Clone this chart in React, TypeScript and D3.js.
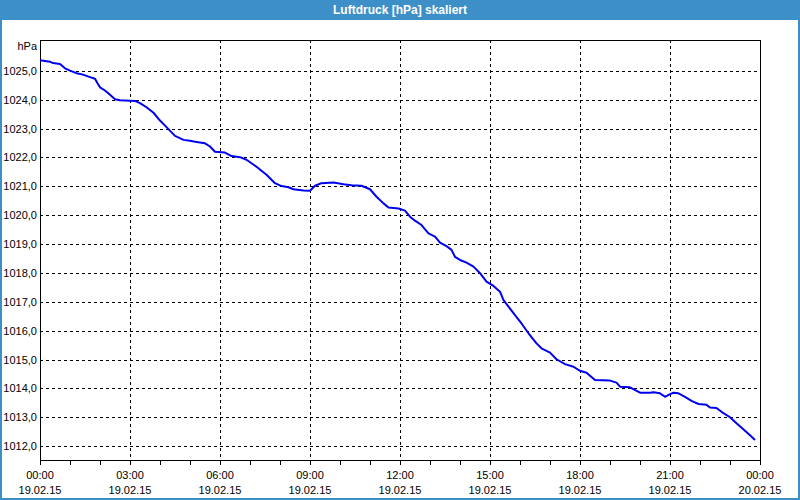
import React from "react";
import * as d3 from "d3";

const title = "Luftdruck [hPa] skaliert";
const unitLabel = "hPa";

// minutes since 19.02.15 00:00
const minutes = [
  0, 20, 26, 40, 50, 60, 73, 86, 97, 110, 115, 120, 130, 140, 150, 160, 190, 200, 213, 227,
  240, 253, 270, 287, 300, 313, 330, 340, 350, 370, 383, 400, 413, 433, 453, 470, 483, 497, 507, 527,
  540, 550, 563, 587, 607, 623, 643, 660, 673, 687, 697, 717, 730, 740, 750, 763, 777, 790, 800, 813,
  823, 830, 840, 853, 867, 880, 893, 907, 920, 927, 937, 950, 963, 977, 993, 1003, 1020, 1033, 1050, 1067,
  1080, 1093, 1110, 1140, 1153, 1160, 1180, 1200, 1220, 1227, 1240, 1250, 1260, 1267, 1277, 1290, 1303, 1317, 1333, 1340,
  1353, 1363, 1380, 1393, 1410, 1420, 1430,
];
const pressure = [
  1025.37, 1025.32, 1025.27, 1025.24, 1025.09, 1025.01, 1024.92, 1024.87, 1024.8, 1024.73, 1024.57, 1024.43, 1024.32, 1024.17, 1024.02, 1023.98, 1023.96, 1023.88, 1023.74, 1023.55,
  1023.28, 1023.05, 1022.75, 1022.61, 1022.58, 1022.54, 1022.49, 1022.38, 1022.2, 1022.17, 1022.05, 1022.01, 1021.92, 1021.68, 1021.4, 1021.11, 1021.01, 1020.97, 1020.9, 1020.86,
  1020.85, 1021.02, 1021.11, 1021.13, 1021.07, 1021.04, 1021.02, 1020.9, 1020.64, 1020.41, 1020.27, 1020.23, 1020.16, 1019.95, 1019.81, 1019.66, 1019.37, 1019.26, 1019.05, 1018.93,
  1018.8, 1018.56, 1018.45, 1018.36, 1018.22, 1017.99, 1017.7, 1017.55, 1017.35, 1017.06, 1016.83, 1016.54, 1016.25, 1015.91, 1015.56, 1015.39, 1015.24, 1015.01, 1014.84, 1014.75,
  1014.61, 1014.54, 1014.29, 1014.27, 1014.2, 1014.06, 1014.04, 1013.85, 1013.85, 1013.87, 1013.83, 1013.71, 1013.8, 1013.85, 1013.83, 1013.71, 1013.57, 1013.46, 1013.43, 1013.34,
  1013.32, 1013.19, 1013.0, 1012.79, 1012.53, 1012.38, 1012.21,
];
const yTicks = [1012, 1013, 1014, 1015, 1016, 1017, 1018, 1019, 1020, 1021, 1022, 1023, 1024, 1025];
const xTickHours = [0, 3, 6, 9, 12, 15, 18, 21, 24];
const xTimeLabels = ["00:00", "03:00", "06:00", "09:00", "12:00", "15:00", "18:00", "21:00", "00:00"];
const xDateLabels = ["19.02.15", "19.02.15", "19.02.15", "19.02.15", "19.02.15", "19.02.15", "19.02.15", "19.02.15", "20.02.15"];
const minorTickHours = d3.range(0, 25, 1);
const yDomain = [1011.52, 1026.07];

const W = 800;
const H = 500;
const L = 40, R = 760, T = 40, B = 460;
const font = "'Liberation Sans', Arial, sans-serif";

export default function App() {
  const x = d3.scaleLinear().domain([0, 24 * 60]).range([L, R]);
  const y = d3.scaleLinear().domain(yDomain).range([B, T]);
  const data = minutes.map((m, i) => [m, pressure[i]] as [number, number]);
  const line = d3
    .line<[number, number]>()
    .x((d) => x(d[0]))
    .y((d) => y(d[1]));

  return (
    <svg
      width={W}
      height={H}
      style={{ position: "absolute", left: 0, top: 0, display: "block" }}
      fontFamily={font}
    >
      <rect x={0} y={0} width={W} height={H} fill="#ffffff" />
      {/* window frame */}
      <rect x={0} y={0} width={W} height={20} fill="#3d8fc8" />
      <rect x={0} y={0} width={2} height={H} fill="#3d8fc8" />
      <rect x={W - 2} y={0} width={2} height={H} fill="#3d8fc8" />
      <rect x={0} y={H - 2} width={W} height={2} fill="#3d8fc8" />
      <text x={W / 2} y={14} textAnchor="middle" fill="#ffffff" fontWeight="bold" fontSize={12}>
        {title}
      </text>

      {/* horizontal grid */}
      {yTicks.map((t) => (
        <line
          key={"hg" + t}
          x1={L}
          x2={R}
          y1={Math.round(y(t)) + 0.5}
          y2={Math.round(y(t)) + 0.5}
          stroke="#000"
          strokeDasharray="3,3"
          shapeRendering="crispEdges"
        />
      ))}
      {/* vertical grid */}
      {xTickHours.slice(1, -1).map((h) => (
        <line
          key={"vg" + h}
          x1={Math.round(x(h * 60)) + 0.5}
          x2={Math.round(x(h * 60)) + 0.5}
          y1={T}
          y2={B}
          stroke="#000"
          strokeDasharray="3,3"
          shapeRendering="crispEdges"
        />
      ))}

      {/* frame / axes */}
      <line x1={L} x2={R + 1} y1={T + 0.5} y2={T + 0.5} stroke="#000" shapeRendering="crispEdges" />
      <line x1={R + 0.5} x2={R + 0.5} y1={T} y2={B} stroke="#000" shapeRendering="crispEdges" />
      <line x1={L + 0.5} x2={L + 0.5} y1={T} y2={B + 1} stroke="#000" shapeRendering="crispEdges" />
      <line x1={L} x2={R + 1} y1={B + 0.5} y2={B + 0.5} stroke="#000" shapeRendering="crispEdges" />
      {minorTickHours.map((h) => (
        <line
          key={"mt" + h}
          x1={Math.round(x(h * 60)) + 0.5}
          x2={Math.round(x(h * 60)) + 0.5}
          y1={B}
          y2={B + 5}
          stroke="#000"
          shapeRendering="crispEdges"
        />
      ))}

      {/* y labels */}
      <text x={37} y={50} textAnchor="end" fontSize={11} fill="#000">
        {unitLabel}
      </text>
      {yTicks.map((t) => (
        <text key={"yl" + t} x={37} y={y(t) + 4} textAnchor="end" fontSize={11} fill="#000">
          {d3.format(".1f")(t).replace(".", ",")}
        </text>
      ))}

      {/* x labels */}
      {xTickHours.map((h, i) => (
        <g key={"xl" + h}>
          <text x={x(h * 60)} y={479} textAnchor="middle" fontSize={11} fill="#000">
            {xTimeLabels[i]}
          </text>
          <text x={x(h * 60)} y={494} textAnchor="middle" fontSize={11} fill="#000">
            {xDateLabels[i]}
          </text>
        </g>
      ))}

      <path d={line(data) || ""} fill="none" stroke="#0000f0" strokeWidth={2} strokeLinejoin="round" />
    </svg>
  );
}
